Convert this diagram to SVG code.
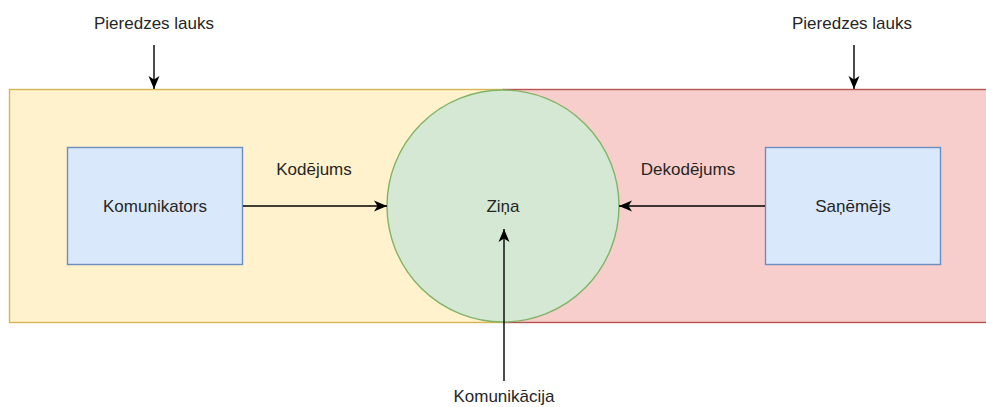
<svg xmlns="http://www.w3.org/2000/svg" width="986" height="407" viewBox="0 0 986 407">
  <defs>
    <marker id="arrow" markerUnits="userSpaceOnUse" markerWidth="14" markerHeight="12" viewBox="0 0 14 12" refX="13" refY="6" orient="auto">
      <path d="M0,0.5 L13,6 L0,11.5 L3.5,6 Z" fill="#000"/>
    </marker>
  </defs>
  <style>
    text { font-family: "Liberation Sans", Arial, sans-serif; font-size: 17px; fill: #262626; text-anchor: middle; }
    .box { fill: #dae8fc; stroke: #6c8ebf; stroke-width: 1.4; }
    .edge { fill: none; stroke: #000; stroke-width: 1.4; marker-end: url(#arrow); }
  </style>

  <!-- experience fields -->
  <g id="field-sender">
    <rect x="9.5" y="89.5" width="494" height="233" fill="#fff2cc" stroke="#d6b656" stroke-width="1.4"/>
  </g>
  <g id="field-receiver">
    <rect x="503.5" y="89.5" width="492" height="233" fill="#f8cecc" stroke="#b85450" stroke-width="1.4"/>
  </g>

  <!-- message -->
  <g id="message">
    <circle cx="503" cy="206" r="116" fill="#d5e8d4" stroke="#82b366" stroke-width="1.4"/>
    <text x="503" y="212">Ziņa</text>
  </g>

  <g id="sender">
    <rect class="box" x="67.5" y="147.5" width="175" height="117"/>
    <text x="155" y="212">Komunikators</text>
  </g>

  <g id="receiver">
    <rect class="box" x="765.5" y="147.5" width="175" height="117"/>
    <text x="853" y="212">Saņēmējs</text>
  </g>

  <!-- free labels -->
  <g id="label-left-field"><text x="154" y="29">Pieredzes lauks</text></g>
  <g id="label-right-field"><text x="852" y="29">Pieredzes lauks</text></g>
  <g id="label-communication"><text x="504" y="402">Komunikācija</text></g>

  <!-- connectors -->
  <g id="connectors">
    <line class="edge" x1="243" y1="206" x2="387" y2="206"/>
    <line class="edge" x1="765" y1="206" x2="619" y2="206"/>
    <line class="edge" x1="504" y1="381" x2="504" y2="229"/>
    <line class="edge" x1="154" y1="45" x2="154" y2="89"/>
    <line class="edge" x1="854" y1="45" x2="854" y2="89"/>
    <text x="314" y="175">Kodējums</text>
    <text x="688" y="175">Dekodējums</text>
  </g>
</svg>
